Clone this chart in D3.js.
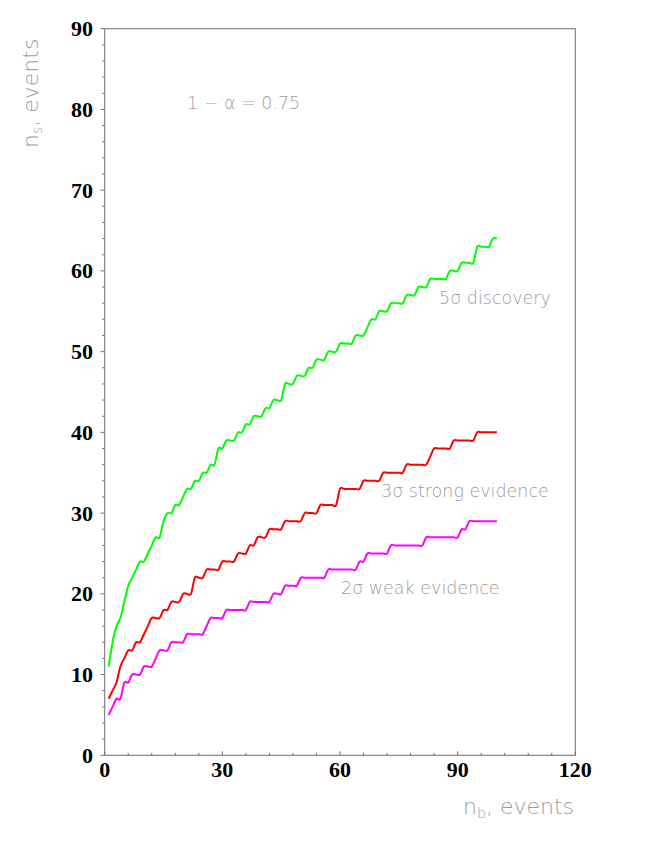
<!DOCTYPE html>
<html>
<head>
<meta charset="utf-8">
<script src="https://cdn.jsdelivr.net/npm/d3@7/dist/d3.min.js"></script>
<style>
  html, body { margin: 0; padding: 0; background: #fff; }
  svg { display: block; }
</style>
</head>
<body>
<svg id="chart" width="654" height="846"></svg>
<script>
// ---- data ----
const nb = d3.range(1, 101);
const sigma5 = [
  11,14,16,17,19,21,22,23,24,24,
  25,26,27,27,29,30,30,31,31,32,
  33,33,34,34,35,35,36,36,38,38,
  39,39,39,40,40,41,41,42,42,42,
  43,43,44,44,44,46,46,46,47,47,
  47,48,48,49,49,49,50,50,50,51,
  51,51,51,52,52,52,53,54,54,55,
  55,55,56,56,56,56,57,57,57,58,
  58,58,59,59,59,59,59,60,60,60,
  61,61,61,61,63,63,63,63,64,64
];
const sigma3 = [
  7,8,9,11,12,13,13,14,14,15,
  16,17,17,17,18,18,19,19,19,20,
  20,20,22,22,22,23,23,23,23,24,
  24,24,24,25,25,25,26,26,27,27,
  27,28,28,28,28,29,29,29,29,29,
  30,30,30,30,31,31,31,31,31,33,
  33,33,33,33,33,34,34,34,34,34,
  35,35,35,35,35,35,36,36,36,36,
  36,36,37,38,38,38,38,38,39,39,
  39,39,39,39,40,40,40,40,40,40
];
const sigma2 = [
  5,6,7,7,9,9,10,10,10,11,
  11,11,12,13,13,13,14,14,14,14,
  15,15,15,15,15,16,17,17,17,17,
  18,18,18,18,18,18,19,19,19,19,
  19,19,20,20,20,21,21,21,21,22,
  22,22,22,22,22,22,23,23,23,23,
  23,23,23,23,24,24,25,25,25,25,
  25,25,26,26,26,26,26,26,26,26,
  26,27,27,27,27,27,27,27,27,27,
  28,28,29,29,29,29,29,29,29,29
];
const seriesNames = ["5σ discovery", "3σ strong evidence", "2σ weak evidence"];
const seriesColors = ["#00ff00", "#ff0000", "#ff00ff"];
const xTicks = [0, 30, 60, 90, 120];
const yTicks = [0, 10, 20, 30, 40, 50, 60, 70, 80, 90];

// ---- layout ----
const svg = d3.select("#chart");
const x = d3.scaleLinear().domain([0, 120]).range([104.7, 575.3]);
const y = d3.scaleLinear().domain([0, 90]).range([755.3, 28.7]);
const axisColor = "#6e6e6e";
const textGray = "#9c9c9c";

// frame
svg.append("rect")
  .attr("x", x(0)).attr("y", y(90))
  .attr("width", x(120) - x(0)).attr("height", y(0) - y(90))
  .attr("fill", "none").attr("stroke", axisColor).attr("stroke-width", 1);

// y axis ticks (outward, left)
const yMinor = d3.range(0, 91, 2);
svg.append("g").selectAll("line").data(yMinor).join("line")
  .attr("x1", x(0)).attr("x2", d => x(0) - (d % 10 === 0 ? 4 : 2.5))
  .attr("y1", d => y(d)).attr("y2", d => y(d))
  .attr("stroke", axisColor).attr("stroke-width", 1);
// x axis ticks (inward, up)
const xMinor = d3.range(0, 121, 6);
svg.append("g").selectAll("line").data(xMinor).join("line")
  .attr("x1", d => x(d)).attr("x2", d => x(d))
  .attr("y1", y(0)).attr("y2", d => y(0) - (d % 30 === 0 ? 4 : 2.5))
  .attr("stroke", axisColor).attr("stroke-width", 1);

// tick labels
svg.append("g").selectAll("text").data(yTicks).join("text")
  .attr("x", 93).attr("y", d => y(d)).attr("dy", "0.34em")
  .attr("text-anchor", "end")
  .attr("font-family", "'Liberation Serif', 'Times New Roman', serif")
  .attr("font-weight", "bold").attr("font-size", 22)
  .attr("fill", "#000").text(d => d);
svg.append("g").selectAll("text").data(xTicks).join("text")
  .attr("x", d => x(d)).attr("y", 777)
  .attr("text-anchor", "middle")
  .attr("font-family", "'Liberation Serif', 'Times New Roman', serif")
  .attr("font-weight", "bold").attr("font-size", 22)
  .attr("fill", "#000").text(d => d);

// axis titles
const thinFont = "'DejaVu Sans', sans-serif";
const xt = svg.append("text")
  .attr("x", 574).attr("y", 814).attr("text-anchor", "end")
  .attr("font-family", thinFont).attr("font-weight", 200)
  .attr("font-size", 22).attr("fill", textGray);
xt.append("tspan").text("n");
xt.append("tspan").attr("font-size", 14).attr("dy", 4).text("b");
xt.append("tspan").attr("dy", -4).text(", events");

const yt = svg.append("text")
  .attr("transform", "translate(38,148) rotate(-90)")
  .attr("text-anchor", "start")
  .attr("font-family", thinFont).attr("font-weight", 200)
  .attr("font-size", 22).attr("fill", textGray);
yt.append("tspan").text("n");
yt.append("tspan").attr("font-size", 14).attr("dy", 4).text("s");
yt.append("tspan").attr("dy", -4).text(", events");

// annotation
svg.append("text")
  .attr("x", 187).attr("y", 109)
  .attr("font-family", thinFont).attr("font-weight", 200)
  .attr("font-size", 17.5).attr("fill", textGray)
  .text("1 − α = 0.75");

// curves
const line = d3.line()
  .x(d => x(d[0])).y(d => y(d[1]))
  .curve(d3.curveCatmullRom.alpha(0));
const allSeries = [sigma5, sigma3, sigma2];
allSeries.forEach((vals, i) => {
  svg.append("path")
    .datum(nb.map((n, j) => [n, vals[j]]))
    .attr("d", line)
    .attr("fill", "none")
    .attr("stroke", seriesColors[i])
    .attr("stroke-width", 2)
    .attr("stroke-linejoin", "round");
});

// series labels
const labelPos = [[439, 304], [381, 497], [341, 594]];
seriesNames.forEach((name, i) => {
  svg.append("text")
    .attr("x", labelPos[i][0]).attr("y", labelPos[i][1])
    .attr("font-family", thinFont).attr("font-weight", 200)
    .attr("font-size", 17.5).attr("fill", textGray)
    .text(name);
});
</script>
</body>
</html>
